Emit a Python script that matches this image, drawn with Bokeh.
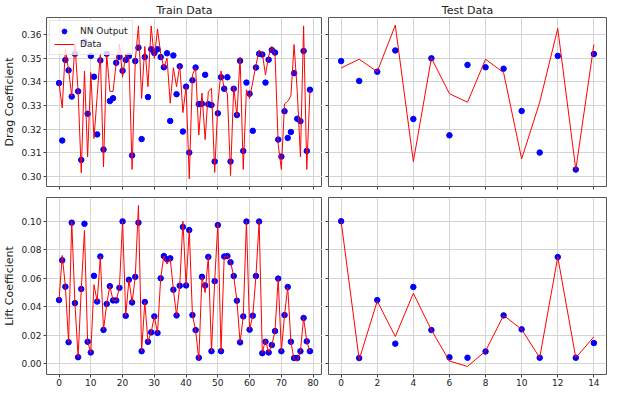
from bokeh.plotting import figure
from bokeh.layouts import column, row
from bokeh.models import Range1d, FixedTicker, NumeralTickFormatter, CustomJSTickFormatter
from bokeh.embed import file_html
from bokeh.resources import INLINE

# ---------------- data ----------------
train_x = list(range(80))
test_x = list(range(15))

train_drag_nn = [
    0.3395, 0.3152, 0.3493, 0.3449, 0.3338, 0.3519, 0.3360, 0.3070, 0.3570, 0.3265,
    0.3510, 0.3422, 0.3178, 0.3491, 0.3114, 0.3519, 0.3319, 0.3331, 0.3481, 0.3506,
    0.3447, 0.3493, 0.3510, 0.3089, 0.3488, 0.3545, 0.3158, 0.3505, 0.3336, 0.3538,
    0.3522, 0.3538, 0.3505, 0.3462, 0.3521, 0.3235, 0.3512, 0.3348, 0.3466, 0.3190,
    0.3380, 0.3101, 0.3407, 0.3461, 0.3306, 0.3308, 0.3430, 0.3306, 0.3302, 0.3063,
    0.3267, 0.3420, 0.3371, 0.3420, 0.3063, 0.3371, 0.3260, 0.3489, 0.3108, 0.3397,
    0.3350, 0.3193, 0.3461, 0.3519, 0.3516, 0.3397, 0.3494, 0.3535, 0.3524, 0.3156,
    0.3084, 0.3276, 0.3163, 0.3188, 0.3437, 0.3244, 0.3234, 0.3531, 0.3108, 0.3367,
]
train_drag_data = [
    0.3395, 0.3290, 0.3540, 0.3450, 0.3340, 0.3560, 0.3360, 0.3015, 0.3446, 0.3083,
    0.3440, 0.3160, 0.3340, 0.3520, 0.3040, 0.3520, 0.3360, 0.3360, 0.3480, 0.3560,
    0.3420, 0.3520, 0.3500, 0.3030, 0.3490, 0.3637, 0.3330, 0.3550, 0.3380, 0.3637,
    0.3500, 0.3624, 0.3520, 0.3460, 0.3500, 0.3310, 0.3460, 0.3380, 0.3470, 0.3270,
    0.3380, 0.2990, 0.3430, 0.3460, 0.3175, 0.3353, 0.3156, 0.3360, 0.3373, 0.3017,
    0.3307, 0.3446, 0.3373, 0.3350, 0.3004, 0.3380, 0.3255, 0.3505, 0.3030, 0.3367,
    0.3330, 0.3400, 0.3470, 0.3535, 0.3520, 0.3430, 0.3510, 0.3550, 0.3518, 0.3136,
    0.3030, 0.3307, 0.3318, 0.3340, 0.3558, 0.3360, 0.3083, 0.3637, 0.3030, 0.3367,
]
train_lift_nn = [
    0.0447, 0.0726, 0.0541, 0.0152, 0.0990, 0.0426, 0.0047, 0.0525, 0.0982, 0.0155,
    0.0080, 0.0617, 0.0437, 0.0753, 0.0238, 0.0420, 0.0545, 0.0445, 0.0445, 0.0533,
    0.0999, 0.0337, 0.0590, 0.0431, 0.0610, 0.0990, 0.0089, 0.0434, 0.0155, 0.0221,
    0.0333, 0.0217, 0.0600, 0.0756, 0.0733, 0.0740, 0.0520, 0.0340, 0.0548, 0.0960,
    0.0550, 0.0938, 0.0342, 0.0237, 0.0043, 0.0610, 0.0550, 0.0750, 0.0089, 0.0580,
    0.0973, 0.0089, 0.0753, 0.0756, 0.0712, 0.0616, 0.0443, 0.0151, 0.0333, 0.0998,
    0.0240, 0.0338, 0.0616, 0.0998, 0.0075, 0.0155, 0.0080, 0.0132, 0.0230, 0.0598,
    0.0089, 0.0342, 0.0539, 0.0155, 0.0041, 0.0041, 0.0089, 0.0322, 0.0158, 0.0089,
]
train_lift_data = [
    0.0447, 0.0760, 0.0541, 0.0152, 0.1000, 0.0426, 0.0047, 0.0525, 0.0935, 0.0155,
    0.0080, 0.0555, 0.0437, 0.0753, 0.0238, 0.0420, 0.0545, 0.0445, 0.0445, 0.0533,
    0.1000, 0.0337, 0.0590, 0.0431, 0.0610, 0.1110, 0.0089, 0.0434, 0.0155, 0.0221,
    0.0333, 0.0217, 0.0600, 0.0756, 0.0700, 0.0740, 0.0520, 0.0340, 0.0548, 0.1000,
    0.0550, 0.0938, 0.0342, 0.0237, 0.0030, 0.0610, 0.0500, 0.0750, 0.0089, 0.0580,
    0.0985, 0.0089, 0.0753, 0.0756, 0.0712, 0.0616, 0.0443, 0.0151, 0.0333, 0.1000,
    0.0240, 0.0338, 0.0616, 0.1000, 0.0075, 0.0170, 0.0080, 0.0132, 0.0230, 0.0598,
    0.0089, 0.0342, 0.0539, 0.0155, 0.0030, 0.0020, 0.0089, 0.0322, 0.0158, 0.0089,
]

test_drag_nn = [0.3488, 0.3404, 0.3443, 0.3533, 0.3243, 0.3500, 0.3174, 0.3472,
                0.3462, 0.3456, 0.3277, 0.3101, 0.3510, 0.3029, 0.3518]
test_drag_data = [0.3459, 0.3496, 0.3443, 0.3640, 0.3063, 0.3501, 0.3350, 0.3314,
                  0.3496, 0.3439, 0.3074, 0.3314, 0.3626, 0.3029, 0.3558]
test_lift_nn = [0.1000, 0.0041, 0.0447, 0.0142, 0.0539, 0.0237, 0.0046, 0.0043,
                0.0087, 0.0340, 0.0242, 0.0043, 0.0749, 0.0043, 0.0146]
test_lift_data = [0.1000, 0.0030, 0.0440, 0.0192, 0.0495, 0.0237, 0.0020, -0.0018,
                  0.0090, 0.0340, 0.0242, 0.0043, 0.0749, 0.0043, 0.0190]

train_xticks = [0, 10, 20, 30, 40, 50, 60, 70, 80]
test_xticks = [0, 2, 4, 6, 8, 10, 12, 14]
drag_yticks = [0.30, 0.31, 0.32, 0.33, 0.34, 0.35, 0.36]
lift_yticks = [0.00, 0.02, 0.04, 0.06, 0.08, 0.10]

FONT = "DejaVu Sans"


def padded(vals, frac=0.05):
    lo, hi = min(vals), max(vals)
    d = (hi - lo) * frac
    return lo - d, hi + d


drag_lo, drag_hi = padded(train_drag_nn + train_drag_data + test_drag_nn + test_drag_data)
lift_lo, lift_hi = padded(train_lift_nn + train_lift_data + test_lift_nn + test_lift_data)
trx_lo, trx_hi = padded(train_x)
tex_lo, tex_hi = padded(test_x)

x_train = Range1d(trx_lo, trx_hi)
x_test = Range1d(tex_lo, tex_hi)
y_drag = Range1d(drag_lo, drag_hi)
y_lift = Range1d(lift_lo, lift_hi)

blank = CustomJSTickFormatter(code="return '';")


def make(width, height, xr, yr, mb, xticks, yticks, show_x, show_y, title=None, ylabel=None):
    p = figure(width=width, height=height, x_range=xr, y_range=yr,
               output_backend="svg", toolbar_location=None,
               min_border_left=mb[0], min_border_right=mb[1],
               min_border_top=mb[2], min_border_bottom=mb[3])
    p.background_fill_color = "white"
    p.border_fill_color = "white"
    p.outline_line_color = "#555555"
    p.outline_line_width = 1
    p.xgrid.grid_line_color = "#d4d4d4"
    p.ygrid.grid_line_color = "#d4d4d4"
    p.xaxis.ticker = FixedTicker(ticks=xticks)
    p.yaxis.ticker = FixedTicker(ticks=yticks)
    p.yaxis.formatter = NumeralTickFormatter(format="0.00")
    for ax in p.axis:
        ax.axis_line_color = None
        ax.major_tick_line_color = "#444444"
        ax.major_tick_out = 3
        ax.major_tick_in = 0
        ax.minor_tick_line_color = None
        ax.major_label_text_font = FONT
        ax.major_label_text_font_size = "9px"
        ax.major_label_text_color = "#222222"
        ax.major_label_standoff = 2
    if show_x:
        p.xaxis.major_label_standoff = 1
    else:
        p.xaxis.formatter = blank
        p.xaxis.major_label_standoff = 0
    if not show_y:
        p.yaxis.formatter = blank
        p.yaxis.major_label_standoff = 0
    if ylabel:
        p.yaxis.axis_label = ylabel
        p.yaxis.axis_label_text_font = FONT
        p.yaxis.axis_label_text_font_size = "11px"
        p.yaxis.axis_label_text_font_style = "normal"
        p.yaxis.axis_label_text_color = "#222222"
        p.yaxis.axis_label_standoff = 2
    if title:
        p.title.text = title
        p.title.align = "center"
        p.title.text_font = FONT
        p.title.text_font_size = "11px"
        p.title.text_font_style = "normal"
        p.title.text_color = "#222222"
        p.title.standoff = 2
    return p


DOT = 5.5

# top-left: Train Drag
p1 = make(322, 191, x_train, y_drag, (42, 0, 12, 5), train_xticks, drag_yticks,
          False, True, title="Train Data", ylabel="Drag Coefficient")
p1.scatter(train_x, train_drag_nn, size=DOT, color="blue", legend_label="NN Output")
p1.line(train_x, train_drag_data, color="red", line_width=1, legend_label="Data")
p1.legend.location = "top_left"
p1.legend.margin = 3
p1.legend.padding = 4
p1.legend.spacing = 1
p1.legend.label_text_font = FONT
p1.legend.label_text_font_size = "9px"
p1.legend.label_text_color = "#222222"
p1.legend.glyph_width = 20
p1.legend.glyph_height = 12
p1.legend.label_height = 12
p1.legend.label_standoff = 6
p1.legend.border_line_color = "#cccccc"
p1.legend.background_fill_alpha = 0.8

# top-right: Test Drag
p2 = make(287, 191, x_test, y_drag, (6, 3, 12, 5), test_xticks, drag_yticks,
          False, False, title="Test Data")
p2.scatter(test_x, test_drag_nn, size=DOT, color="blue")
p2.line(test_x, test_drag_data, color="red", line_width=1)

# bottom-left: Train Lift
p3 = make(322, 198, x_train, y_lift, (42, 0, 6, 15), train_xticks, lift_yticks,
          True, True, ylabel="Lift Coefficient")
p3.scatter(train_x, train_lift_nn, size=DOT, color="blue")
p3.line(train_x, train_lift_data, color="red", line_width=1)

# bottom-right: Test Lift
p4 = make(287, 198, x_test, y_lift, (6, 3, 6, 15), test_xticks, lift_yticks,
          True, False)
p4.scatter(test_x, test_lift_nn, size=DOT, color="blue")
p4.line(test_x, test_lift_data, color="red", line_width=1)

layout = column(row(p1, p2), row(p3, p4))

open("out.html", "w").write(file_html(layout, INLINE))
